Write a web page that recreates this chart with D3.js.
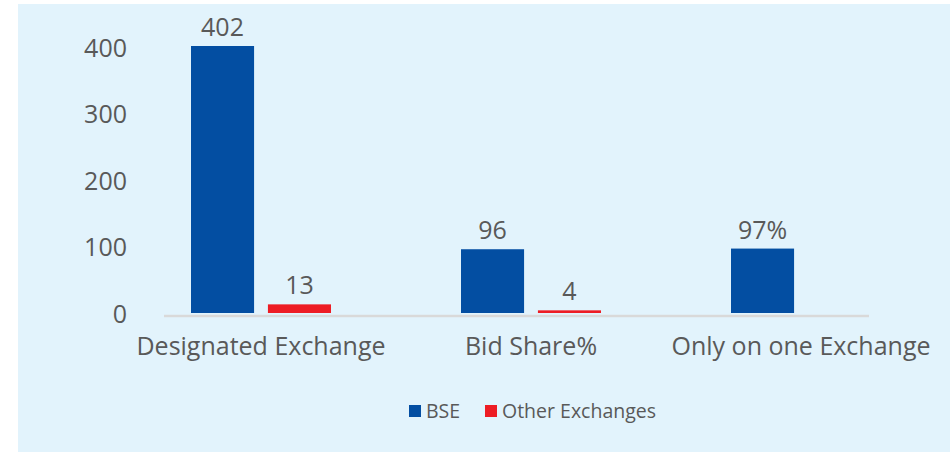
<!DOCTYPE html>
<html>
<head>
<meta charset="utf-8">
<script src="https://cdn.jsdelivr.net/npm/d3@7"></script>
<style>
  html, body { margin: 0; padding: 0; background: #ffffff; }
  #chart svg { display: block; }
</style>
</head>
<body>
<div id="chart"></div>
<script>
// chart values
var categories = ["Designated Exchange", "Bid Share%", "Only on one Exchange"];
var seriesNames = ["BSE", "Other Exchanges"];
var bseValues = [402, 96, 97];
var otherValues = [13, 4, null];
var bseLabels = ["402", "96", "97%"];
var otherLabels = ["13", "4", ""];
var yTicks = [0, 100, 200, 300, 400];

var colors = { "BSE": "#034ea2", "Other Exchanges": "#ed1c24" };

function draw_chart() {
    var W = 950, H = 452;
    var svg = d3.select("#chart")
        .append("svg")
        .attr("width", W)
        .attr("height", H);

    // panel background
    svg.append("rect")
        .attr("x", 18).attr("y", 4)
        .attr("width", W - 18).attr("height", H - 4)
        .attr("fill", "#e2f3fc");

    var x = d3.scaleBand()
        .domain(categories)
        .range([126, 936]);

    var x1 = d3.scaleBand()
        .domain(seriesNames)
        .range([65, 205])
        .paddingInner(0.18);

    var y = d3.scaleLinear()
        .domain([0, 402])
        .range([313, 46]);

    // y tick labels (no gridlines)
    svg.append("g")
        .selectAll("text")
        .data(yTicks)
        .enter()
        .append("text")
        .attr("x", 127)
        .attr("y", d => y(d))
        .attr("dy", "0.38em")
        .attr("text-anchor", "end")
        .style("font-family", "'Open Sans', sans-serif")
        .style("font-size", "25px")
        .attr("fill", "#595959")
        .text(d => d);

    var rows = [];
    categories.forEach(function (c, i) {
        rows.push({ cat: c, series: "BSE", value: bseValues[i], label: bseLabels[i] });
        if (otherValues[i] != null)
            rows.push({ cat: c, series: "Other Exchanges", value: otherValues[i], label: otherLabels[i] });
    });

    svg.selectAll("rect.bar")
        .data(rows)
        .enter()
        .append("rect")
        .attr("class", "bar")
        .attr("x", d => x(d.cat) + x1(d.series))
        .attr("y", d => y(d.value))
        .attr("width", x1.bandwidth())
        .attr("height", d => y(0) - y(d.value))
        .attr("fill", d => colors[d.series]);

    // data labels
    svg.selectAll("text.lbl")
        .data(rows)
        .enter()
        .append("text")
        .attr("class", "lbl")
        .attr("x", d => x(d.cat) + x1(d.series) + x1.bandwidth() / 2)
        .attr("y", d => y(d.value) - 10)
        .attr("text-anchor", "middle")
        .style("font-family", "'Open Sans', sans-serif")
        .style("font-size", "25px")
        .attr("fill", "#595959")
        .text(d => d.label);

    // category axis line
    svg.append("line")
        .attr("x1", 164).attr("x2", 869)
        .attr("y1", y(0) + 3).attr("y2", y(0) + 3)
        .attr("stroke", "#d9d9d9")
        .attr("stroke-width", 2.5);

    svg.append("g")
        .selectAll("text")
        .data(categories)
        .enter()
        .append("text")
        .attr("x", d => x(d) + x.bandwidth() / 2)
        .attr("y", 355)
        .attr("text-anchor", "middle")
        .style("font-family", "'Open Sans', sans-serif")
        .style("font-size", "25px")
        .attr("fill", "#595959")
        .text(d => d);

    // legend
    var legend = svg.append("g").attr("transform", "translate(409,405)");
    var offs = [0, 76];
    seriesNames.forEach(function (s, i) {
        var g = legend.append("g").attr("transform", "translate(" + offs[i] + ",0)");
        g.append("rect")
            .attr("width", 12).attr("height", 12)
            .attr("fill", colors[s]);
        g.append("text")
            .attr("x", 17).attr("y", 6)
            .attr("dy", "0.36em")
            .style("font-family", "'Open Sans', sans-serif")
            .style("font-size", "19.5px")
            .attr("fill", "#595959")
            .text(s);
    });
}

draw_chart();
</script>
</body>
</html>
